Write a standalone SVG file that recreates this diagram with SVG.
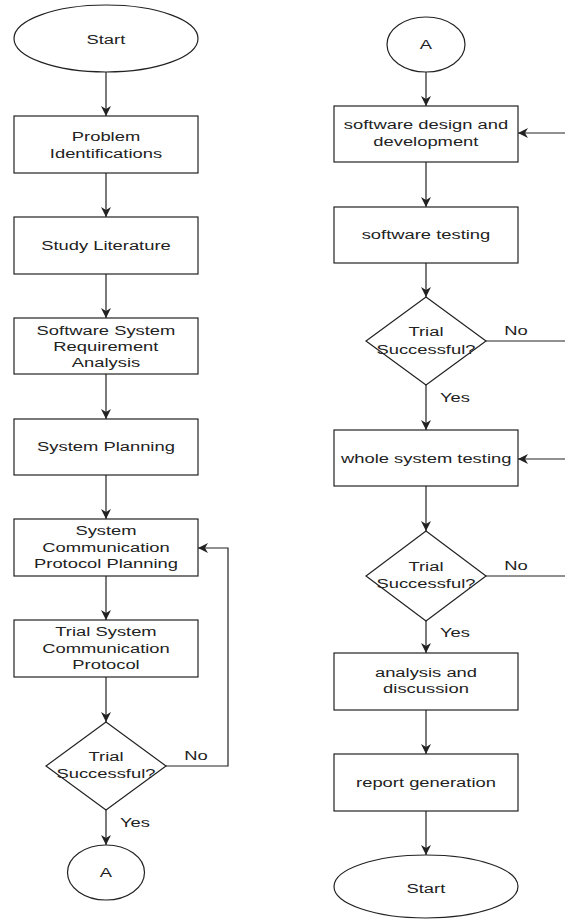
<svg xmlns="http://www.w3.org/2000/svg" width="565" height="919" viewBox="0 0 565 919">
<style>
.s{fill:#fff;stroke:#222;stroke-width:1.2}
.c{fill:none;stroke:#222;stroke-width:1.2}
text{font-family:"Liberation Sans",Arial,sans-serif;font-size:12.5px;fill:#222;text-anchor:middle;transform-box:fill-box;transform-origin:center;transform:scaleX(1.47)}
</style>
<defs>
<marker id="ah" markerUnits="userSpaceOnUse" markerWidth="10" markerHeight="10" viewBox="0 0 10 10" refX="10" refY="5" orient="auto">
<path d="M0,0 L10,5 L0,10 L3,5 z" fill="#222"/>
</marker>
</defs>
<rect width="565" height="919" fill="#fff"/>
<g id="connectors">
<line class="c" x1="106" y1="72" x2="106" y2="116" marker-end="url(#ah)"/>
<line class="c" x1="106" y1="173" x2="106" y2="217" marker-end="url(#ah)"/>
<line class="c" x1="106" y1="274" x2="106" y2="318" marker-end="url(#ah)"/>
<line class="c" x1="106" y1="374" x2="106" y2="419" marker-end="url(#ah)"/>
<line class="c" x1="106" y1="475" x2="106" y2="519" marker-end="url(#ah)"/>
<line class="c" x1="106" y1="576" x2="106" y2="620" marker-end="url(#ah)"/>
<line class="c" x1="106" y1="677" x2="106" y2="722" marker-end="url(#ah)"/>
<line class="c" x1="106" y1="810" x2="106" y2="845" marker-end="url(#ah)"/>
<polyline class="c" points="166,766 228,766 228,548 198,548" marker-end="url(#ah)"/>
<line class="c" x1="426" y1="72" x2="426" y2="106" marker-end="url(#ah)"/>
<line class="c" x1="426" y1="162" x2="426" y2="207" marker-end="url(#ah)"/>
<line class="c" x1="426" y1="263" x2="426" y2="297" marker-end="url(#ah)"/>
<line class="c" x1="426" y1="385" x2="426" y2="430" marker-end="url(#ah)"/>
<line class="c" x1="426" y1="486" x2="426" y2="531" marker-end="url(#ah)"/>
<line class="c" x1="426" y1="621" x2="426" y2="653" marker-end="url(#ah)"/>
<line class="c" x1="426" y1="710" x2="426" y2="754" marker-end="url(#ah)"/>
<line class="c" x1="426" y1="811" x2="426" y2="855" marker-end="url(#ah)"/>
<line class="c" x1="486" y1="341" x2="570" y2="341"/>
<line class="c" x1="486" y1="576" x2="570" y2="576"/>
<line class="c" x1="570" y1="133" x2="518" y2="133" marker-end="url(#ah)"/>
<line class="c" x1="570" y1="459" x2="518" y2="459" marker-end="url(#ah)"/>
<text x="196" y="760">No</text>
<text x="135" y="827">Yes</text>
<text x="516" y="335">No</text>
<text x="455" y="402">Yes</text>
<text x="516" y="570">No</text>
<text x="455" y="637">Yes</text>
</g>
<g id="start1"><ellipse class="s" cx="106" cy="38.5" rx="92" ry="33.5"/><text x="106" y="44">Start</text></g>
<g id="problem"><rect class="s" x="14" y="116" width="184" height="57"/><text x="106" y="141.5">Problem</text><text x="106" y="158.5">Identifications</text></g>
<g id="study"><rect class="s" x="14" y="217" width="184" height="57"/><text x="106" y="250">Study Literature</text></g>
<g id="ssra"><rect class="s" x="14" y="318" width="184" height="56"/><text x="106" y="335.5">Software System</text><text x="106" y="351.5">Requirement</text><text x="106" y="367">Analysis</text></g>
<g id="sysplan"><rect class="s" x="14" y="419" width="184" height="56"/><text x="106" y="451.5">System Planning</text></g>
<g id="scpp"><rect class="s" x="14" y="519" width="184" height="57"/><text x="106" y="535.5">System</text><text x="106" y="552">Communication</text><text x="106" y="568">Protocol Planning</text></g>
<g id="tscp"><rect class="s" x="14" y="620" width="184" height="57"/><text x="106" y="636.5">Trial System</text><text x="106" y="653">Communication</text><text x="106" y="669">Protocol</text></g>
<g id="dec1"><polygon class="s" points="106,722 166,766 106,810 46,766"/><text x="106" y="761.5">Trial</text><text x="106" y="778">Successful?</text></g>
<g id="a1"><ellipse class="s" cx="106" cy="872.5" rx="38.5" ry="27.5"/><text x="106" y="877.5">A</text></g>
<g id="a2"><ellipse class="s" cx="426" cy="44.5" rx="39" ry="27.5"/><text x="426" y="49.5">A</text></g>
<g id="swdd"><rect class="s" x="334" y="106" width="184" height="56"/><text x="426" y="129.5">software design and</text><text x="426" y="146">development</text></g>
<g id="swtest"><rect class="s" x="334" y="207" width="184" height="56"/><text x="426" y="239.5">software testing</text></g>
<g id="dec2"><polygon class="s" points="426,297 486,341 426,385 366,341"/><text x="426" y="336.5">Trial</text><text x="426" y="354">Successful?</text></g>
<g id="wst"><rect class="s" x="334" y="430" width="184" height="56"/><text x="426" y="463.5">whole system testing</text></g>
<g id="dec3"><polygon class="s" points="426,531 486,576 426,621 366,576"/><text x="426" y="571.5">Trial</text><text x="426" y="588">Successful?</text></g>
<g id="anal"><rect class="s" x="334" y="653" width="184" height="57"/><text x="426" y="677">analysis and</text><text x="426" y="693.5">discussion</text></g>
<g id="report"><rect class="s" x="334" y="754" width="184" height="57"/><text x="426" y="787">report generation</text></g>
<g id="start2"><ellipse class="s" cx="426" cy="886.5" rx="92" ry="31.5"/><text x="426" y="893">Start</text></g>
</svg>
